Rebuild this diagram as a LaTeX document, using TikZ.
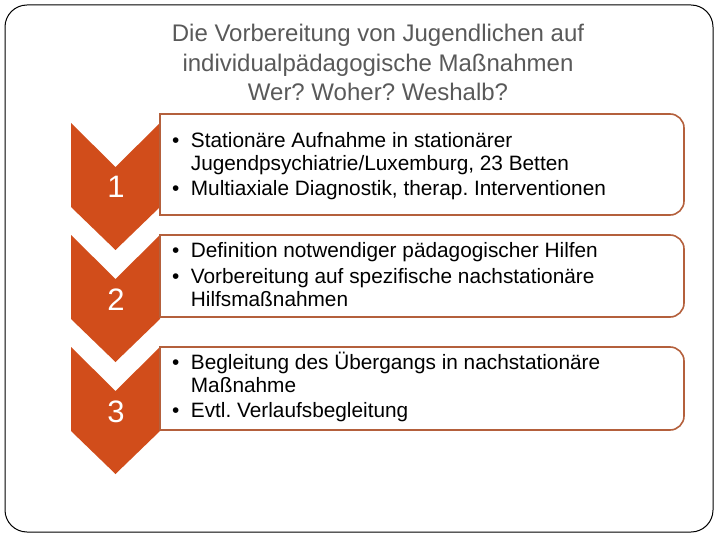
\documentclass[tikz,border=0pt]{standalone}
\usepackage{fontspec}
\setmainfont{Liberation Sans}
\frenchspacing
\definecolor{chev}{HTML}{D14D1B}
\definecolor{boxline}{HTML}{B4603C}
\definecolor{titlegray}{HTML}{595959}
\newcommand{\bul}{\makebox[18.7pt][l]{\textbullet}}
\newcommand{\ind}{\hspace*{18.7pt}}
\tikzset{
  chevshape/.style={fill=chev},
  numlabel/.style={text=white, font=\fontsize{31}{31}\selectfont, anchor=base, inner sep=0pt},
  itembox/.style={draw=boxline, line width=1.6pt, fill=white},
  itemtext/.style={anchor=base west, inner sep=0pt, font=\fontsize{20.8}{23}\selectfont},
}
\begin{document}
\begin{tikzpicture}[x=1pt,y=-1pt]
\useasboundingbox (0,0) rectangle (720,540);
\draw[rounded corners=22pt, line width=1pt] (5,5) rectangle (713,532);
\node[anchor=base, inner sep=0pt, align=center, text=titlegray,
  font=\fontsize{24}{29.5}\selectfont] (title) at (378,101)
  {Die Vorbereitung von Jugendlichen auf\\individualpädagogische Maßnahmen\\Wer? Woher? Weshalb?};
% chevrons
\foreach \dy in {0,112,224}{
  \fill[chevshape] (71,123+\dy) -- (115.5,167+\dy) -- (160,123+\dy) -- (160,207+\dy) -- (115.5,250+\dy) -- (71,207+\dy) -- cycle;
}
\node[numlabel] (n1) at (116,198) {1};
\node[numlabel] (n2) at (116,310) {2};
\node[numlabel] (n3) at (116,422) {3};
% boxes (square left corners, rounded right corners)
\foreach \ta/\tb in {114/215, 235/317, 347/430}{
  \draw[itembox] (160,\ta) -- (670,\ta) arc[start angle=-90, end angle=0, radius=14]
    -- (684,\tb-14) arc[start angle=0, end angle=90, radius=14] -- (160,\tb) -- cycle;
}
\node[itemtext] (t1) at (172,148) {\begin{tabular}[t]{@{}l@{}}
\bul Stationäre Aufnahme in stationärer\\
\ind Jugendpsychiatrie/Luxemburg, 23 Betten\\[2pt]
\bul Multiaxiale Diagnostik, therap. Interventionen
\end{tabular}};
\node[itemtext] (t2) at (172,258) {\begin{tabular}[t]{@{}l@{}}
\bul Definition notwendiger pädagogischer Hilfen\\[2pt]
\bul Vorbereitung auf spezifische nachstationäre\\
\ind Hilfsmaßnahmen
\end{tabular}};
\node[itemtext] (t3) at (172,369) {\begin{tabular}[t]{@{}l@{}}
\bul Begleitung des Übergangs in nachstationäre\\
\ind Maßnahme\\[2pt]
\bul Evtl. Verlaufsbegleitung
\end{tabular}};
\end{tikzpicture}
\end{document}
